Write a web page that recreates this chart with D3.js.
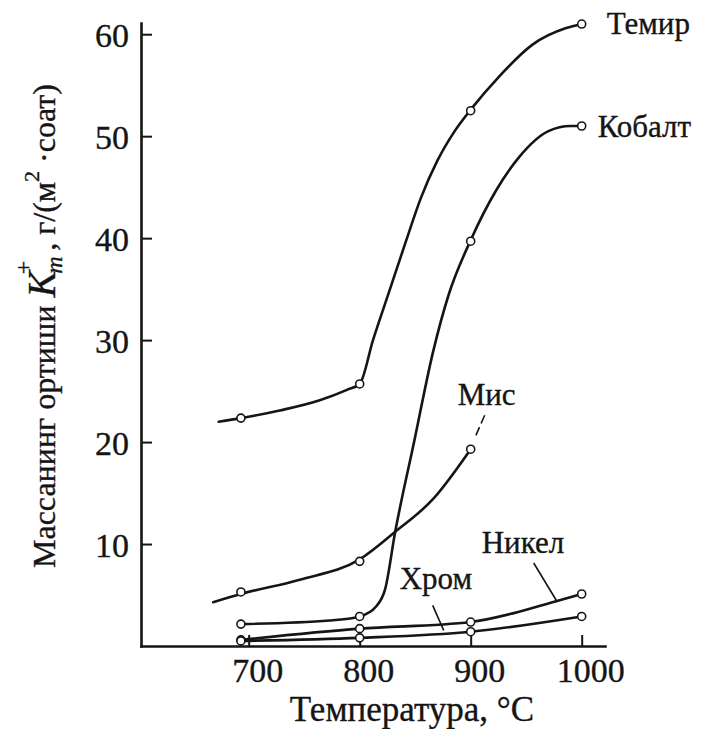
<!DOCTYPE html>
<html>
<head>
<meta charset="utf-8">
<script src="https://cdn.jsdelivr.net/npm/d3@7"></script>
<style>
  body { margin: 0; background: #fff; }
  svg { display: block; }
</style>
</head>
<body>
<svg id="chart" width="709" height="729"></svg>
<script>
// Measured temperatures, °C
const temps = [693, 800, 900, 1000];

// Mass gain K_m^+, g/(m²·h) at the measured temperatures
const ironPts   = [22.35, 25.7, 52.5, 61.0];
const cobaltPts = [2.15, 2.9, 39.7, 51.0];
const copperPts = [5.3, 8.3, 19.3];          // copper measured up to 900 °C
const nickelPts = [0.6, 1.7, 2.35, 5.1];
const chromePts = [0.5, 0.8, 1.4, 2.9];

// Smoothed curves (temperature / value pairs along each fitted line)
const ironCurveT   = [673, 693, 728, 764, 788, 800, 812, 827, 842, 855, 870, 885, 900, 926, 956, 986, 1000];
const ironCurveV   = [22.0, 22.35, 23.1, 24.1, 25.1, 25.7, 30.0, 34.9, 39.8, 43.9, 47.6, 50.4, 52.6, 55.9, 59.0, 60.6, 61.0];
const cobaltCurveT = [693, 773, 800, 815, 823, 832, 849, 866, 880, 900, 923, 944, 970, 990, 1000];
const cobaltCurveV = [2.15, 2.5, 2.9, 3.9, 5.6, 11.2, 20.0, 28.8, 34.4, 39.8, 44.7, 48.0, 50.5, 51.0, 51.0];
const copperCurveT = [668, 693, 746, 800, 832, 866, 900];
const copperCurveV = [4.3, 5.1, 6.5, 8.5, 11.2, 14.4, 19.3];
const nickelCurveT = [693, 800, 900, 938, 977, 1000];
const nickelCurveV = [0.6, 1.7, 2.35, 3.2, 4.4, 5.1];
const chromeCurveT = [693, 800, 900, 1000];
const chromeCurveV = [0.5, 0.8, 1.4, 2.9];

// Axis ticks
const xTicks = [700, 800, 900, 1000];
const yTicks = [10, 20, 30, 40, 50, 60];

const serif = "'Liberation Serif'";
const ink = "#151515";
const svg = d3.select("#chart");

const x = d3.scaleLinear().domain([603, 1021]).range([141, 605]);
const y = d3.scaleLinear().domain([0, 61.1]).range([646, 23]);

// Slightly heavier text, like printed type
const inked = sel => sel.attr("fill", ink).attr("stroke", ink).attr("stroke-width", 0.35);

// Axes
const yAxis = d3.axisLeft(y).tickValues(yTicks).tickSizeInner(-11).tickSizeOuter(0).tickPadding(12);
const xAxis = d3.axisBottom(x).tickValues(xTicks).tickFormat(d3.format("d")).tickSizeInner(-11).tickSizeOuter(0);

const gy = svg.append("g").attr("transform", `translate(${x.range()[0]},0)`).call(yAxis);
const gx = svg.append("g").attr("transform", `translate(0,${y.range()[0]})`).call(xAxis);

[gx, gy].forEach(g => {
  g.select(".domain").attr("stroke", ink).attr("stroke-width", 2.6).attr("stroke-linecap", "square");
  g.selectAll(".tick line").attr("stroke", ink).attr("stroke-width", 2);
  g.selectAll(".tick text").attr("font-family", serif).attr("font-size", 34).call(inked);
});
gy.selectAll(".tick text").attr("dy", "0.36em");
gx.selectAll(".tick text").attr("y", 36).attr("dy", 0).attr("dx", "0.25em");

// Curves
const line = d3.line().x(d => x(d[0])).y(d => y(d[1])).curve(d3.curveMonotoneX);
const curves = [
  [ironCurveT, ironCurveV],
  [cobaltCurveT, cobaltCurveV],
  [copperCurveT, copperCurveV],
  [nickelCurveT, nickelCurveV],
  [chromeCurveT, chromeCurveV]
];
svg.append("g").selectAll("path").data(curves).join("path")
  .attr("d", ([t, v]) => line(t.map((ti, i) => [ti, v[i]])))
  .attr("fill", "none").attr("stroke", ink).attr("stroke-width", 2.6)
  .attr("stroke-linecap", "round").attr("stroke-linejoin", "round");

// Measured points
const series = [ironPts, cobaltPts, copperPts, nickelPts, chromePts];
const pts = series.flatMap(s => s.map((v, i) => [temps[i], v]));
svg.append("g").selectAll("circle").data(pts).join("circle")
  .attr("cx", d => x(d[0])).attr("cy", d => y(d[1])).attr("r", 4)
  .attr("fill", "#fff").attr("stroke", ink).attr("stroke-width", 1.6);

// Curve labels
const endIron = [x(1000), y(ironPts[3])];
const endCobalt = [x(1000), y(cobaltPts[3])];
const endCopper = [x(900), y(copperPts[2])];
const endNickel = [x(1000), y(nickelPts[3])];
const endChrome = [x(1000), y(chromePts[3])];

const curveLabels = [
  { name: "Темир",  at: endIron,   dx: 25,   dy: 10 },
  { name: "Кобалт", at: endCobalt, dx: 16,   dy: 11 },
  { name: "Мис",    at: endCopper, dx: -13,  dy: -44 },
  { name: "Никел",  at: endNickel, dx: -100, dy: -41 },
  { name: "Хром",   at: endChrome, dx: -182, dy: -27 }
];
svg.append("g").selectAll("text").data(curveLabels).join("text")
  .attr("x", d => d.at[0] + d.dx).attr("y", d => d.at[1] + d.dy)
  .attr("font-family", serif).attr("font-size", 31).call(inked)
  .text(d => d.name);

// Leader lines
const leaders = svg.append("g").attr("stroke", ink).attr("stroke-width", 1.6).attr("fill", "none");
leaders.append("line")
  .attr("x1", endCopper[0] + 14).attr("y1", endCopper[1] - 34)
  .attr("x2", endCopper[0] + 4).attr("y2", endCopper[1] - 11)
  .attr("stroke-dasharray", "9 4");
leaders.append("line")
  .attr("x1", endNickel[0] - 48).attr("y1", endNickel[1] - 31)
  .attr("x2", endNickel[0] - 25).attr("y2", endNickel[1] + 7);
leaders.append("line")
  .attr("x1", endChrome[0] - 149).attr("y1", endChrome[1] - 11)
  .attr("x2", endChrome[0] - 138).attr("y2", endChrome[1] + 14);

// Axis titles
svg.append("text")
  .attr("x", 412).attr("y", 721)
  .attr("text-anchor", "middle").attr("font-family", serif).attr("font-size", 35).call(inked)
  .text("Температура, °C");

const yt = svg.append("text")
  .attr("transform", "translate(55,326) rotate(-90)")
  .attr("text-anchor", "middle").attr("font-family", serif).attr("font-size", 32).call(inked);
yt.append("tspan").text("Массанинг  ортиши ");
yt.append("tspan").attr("font-style", "italic").attr("font-size", 40).text("K");
yt.append("tspan").attr("font-style", "italic").attr("font-size", 24).attr("dy", "0.3em").attr("dx", -3).text("m");
yt.append("tspan").attr("font-size", 24).attr("dy", "-1.3em").attr("dx", -18).text("+");
yt.append("tspan").attr("dy", "0.75em").attr("dx", 2).text(" , г/(м");
yt.append("tspan").attr("font-size", 22).attr("dy", "-0.75em").text("2");
yt.append("tspan").attr("dy", "0.52em").text(" ·соат)");
</script>
</body>
</html>
